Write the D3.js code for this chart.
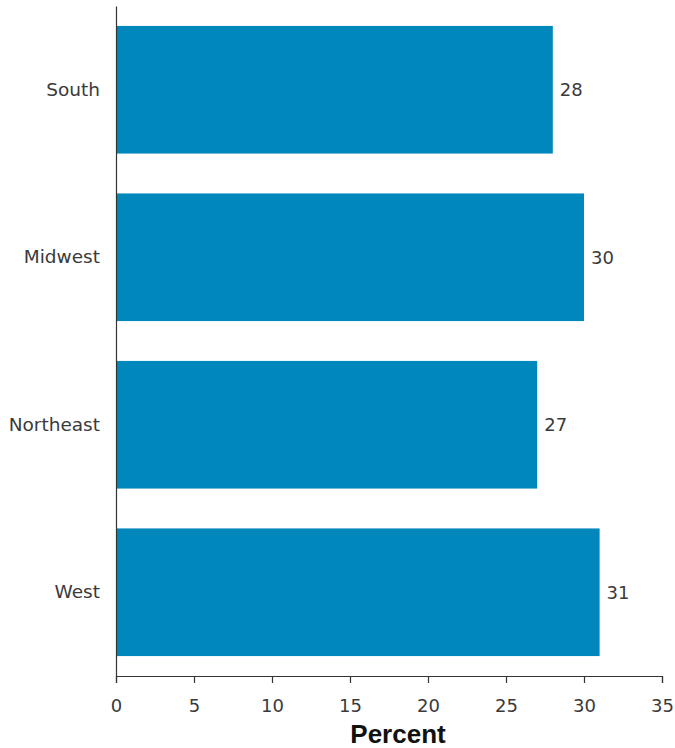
<!DOCTYPE html>
<html>
<head>
<meta charset="utf-8">
<script src="https://cdn.jsdelivr.net/npm/d3@7"></script>
<style>
  html, body { margin: 0; padding: 0; background: #fff; }
  svg { display: block; }
</style>
</head>
<body>
<svg id="chart" width="675" height="748"></svg>
<script>
const categories = ["South", "Midwest", "Northeast", "West"];
const values = [28, 30, 27, 31];
const xTicks = [0, 5, 10, 15, 20, 25, 30, 35];
const xTitle = "Percent";

const svg = d3.select("#chart");
const margin = { left: 116, top: 6, right: 13, bottom: 72 };
const W = 675, H = 748;

const x = d3.scaleLinear().domain([0, 35]).range([margin.left, W - margin.right]);
const y = d3.scaleBand().domain(categories).range([margin.top, H - margin.bottom])
  .paddingInner(0.238).paddingOuter(0.119);

const barColor = "#0087bb";
const textColor = "#3a3a3a";
const font = "'DejaVu Sans', Verdana, sans-serif";

svg.selectAll("rect.bar").data(categories).enter().append("rect")
  .attr("class", "bar")
  .attr("x", x(0))
  .attr("y", d => y(d))
  .attr("width", (d, i) => x(values[i]) - x(0))
  .attr("height", y.bandwidth())
  .attr("fill", barColor);

svg.selectAll("text.val").data(categories).enter().append("text")
  .attr("class", "val")
  .attr("x", (d, i) => x(values[i]) + 7)
  .attr("y", d => y(d) + y.bandwidth() / 2)
  .attr("dy", "0.35em")
  .attr("font-family", font)
  .attr("font-size", 18)
  .attr("fill", textColor)
  .text((d, i) => values[i]);

// y axis (no ticks)
const yAxis = svg.append("g").attr("transform", `translate(${x(0)},0)`)
  .call(d3.axisLeft(y).tickSize(0).tickPadding(16));
yAxis.select(".domain").attr("stroke", "#333").attr("stroke-width", 1.2);
yAxis.selectAll("text").attr("font-family", font).attr("font-size", 18.5).attr("fill", textColor);

// x axis
const xAxis = svg.append("g").attr("transform", `translate(0,${H - margin.bottom})`)
  .call(d3.axisBottom(x).tickValues(xTicks).tickSize(7).tickSizeOuter(7).tickPadding(16));
xAxis.select(".domain").attr("stroke", "#333").attr("stroke-width", 1.2);
xAxis.selectAll(".tick line").attr("stroke", "#333").attr("stroke-width", 1.2);
xAxis.selectAll("text").attr("font-family", font).attr("font-size", 18).attr("fill", textColor);

svg.append("text")
  .attr("x", 398)
  .attr("y", 743)
  .attr("text-anchor", "middle")
  .attr("font-family", "'Liberation Sans', Arial, sans-serif")
  .attr("font-weight", "bold")
  .attr("font-size", 26)
  .attr("fill", "#111")
  .text(xTitle);
</script>
</body>
</html>
